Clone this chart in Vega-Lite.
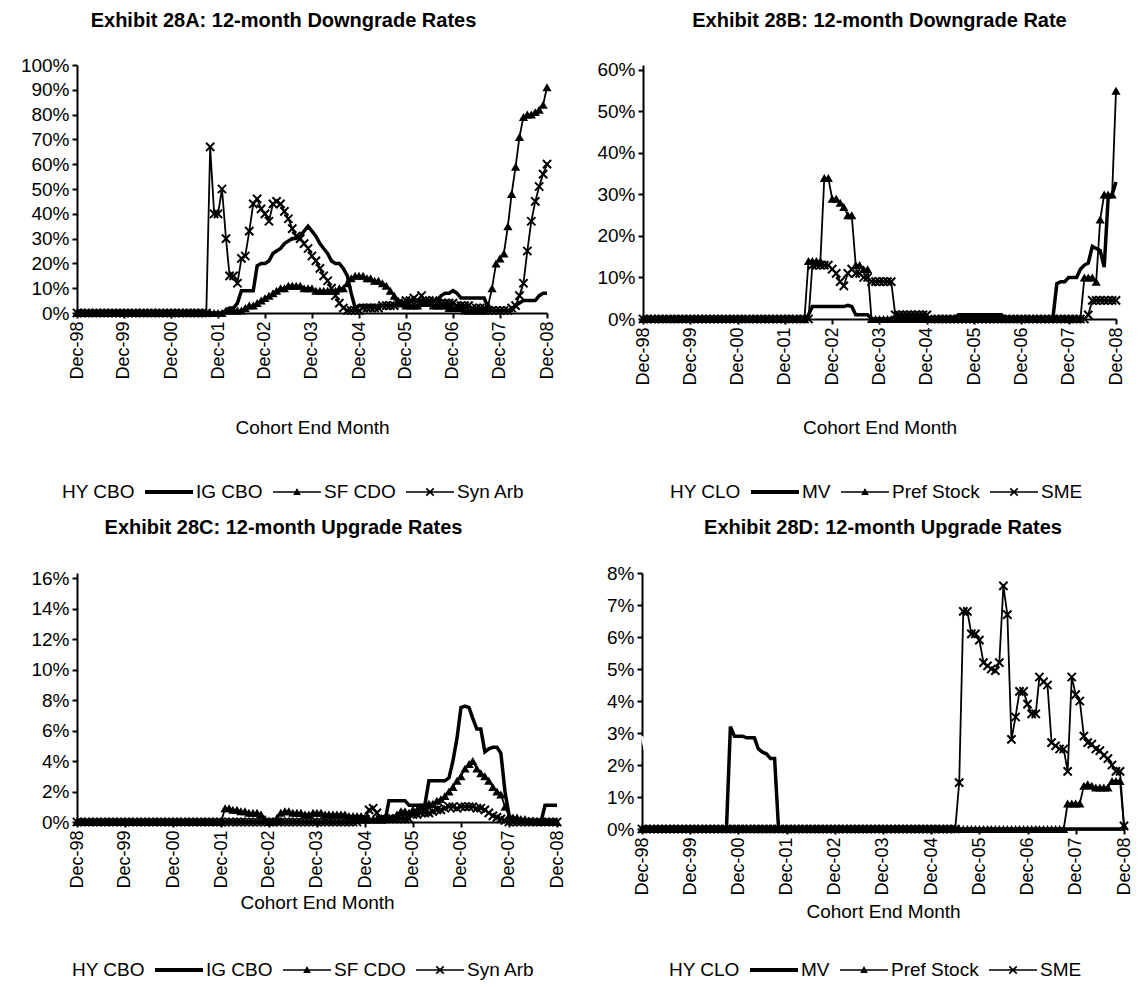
{
"$schema":"https://vega.github.io/schema/vega-lite/v6.json",
"background":"white",
"padding":{"left":11,"top":10,"right":0,"bottom":0},
"config":{
 "font":"Liberation Sans",
 "view":{"stroke":null},
 "title":{"fontSize":20,"fontWeight":"bold","color":"black","anchor":"middle"},
 "axis":{"grid":false,"domainColor":"black","domainWidth":2,"tickColor":"black","tickWidth":2,"tickSize":5,"labelColor":"black","titleColor":"black","labelPadding":3,"labelFlush":false,"labelOverlap":false,"titleFontWeight":"normal","titleFontSize":19},
 "legend":{"labelColor":"black","labelFontSize":19}
},
"datasets":{
"A":[
{"m":"1998-12","IG CBO":0,"SF CDO":0,"Syn Arb":0},
{"m":"1999-01","IG CBO":0,"SF CDO":0,"Syn Arb":0},
{"m":"1999-02","IG CBO":0,"SF CDO":0,"Syn Arb":0},
{"m":"1999-03","IG CBO":0,"SF CDO":0,"Syn Arb":0},
{"m":"1999-04","IG CBO":0,"SF CDO":0,"Syn Arb":0},
{"m":"1999-05","IG CBO":0,"SF CDO":0,"Syn Arb":0},
{"m":"1999-06","IG CBO":0,"SF CDO":0,"Syn Arb":0},
{"m":"1999-07","IG CBO":0,"SF CDO":0,"Syn Arb":0},
{"m":"1999-08","IG CBO":0,"SF CDO":0,"Syn Arb":0},
{"m":"1999-09","IG CBO":0,"SF CDO":0,"Syn Arb":0},
{"m":"1999-10","IG CBO":0,"SF CDO":0,"Syn Arb":0},
{"m":"1999-11","IG CBO":0,"SF CDO":0,"Syn Arb":0},
{"m":"1999-12","IG CBO":0,"SF CDO":0,"Syn Arb":0},
{"m":"2000-01","IG CBO":0,"SF CDO":0,"Syn Arb":0},
{"m":"2000-02","IG CBO":0,"SF CDO":0,"Syn Arb":0},
{"m":"2000-03","IG CBO":0,"SF CDO":0,"Syn Arb":0},
{"m":"2000-04","IG CBO":0,"SF CDO":0,"Syn Arb":0},
{"m":"2000-05","IG CBO":0,"SF CDO":0,"Syn Arb":0},
{"m":"2000-06","IG CBO":0,"SF CDO":0,"Syn Arb":0},
{"m":"2000-07","IG CBO":0,"SF CDO":0,"Syn Arb":0},
{"m":"2000-08","IG CBO":0,"SF CDO":0,"Syn Arb":0},
{"m":"2000-09","IG CBO":0,"SF CDO":0,"Syn Arb":0},
{"m":"2000-10","IG CBO":0,"SF CDO":0,"Syn Arb":0},
{"m":"2000-11","IG CBO":0,"SF CDO":0,"Syn Arb":0},
{"m":"2000-12","IG CBO":0,"SF CDO":0,"Syn Arb":0},
{"m":"2001-01","IG CBO":0,"SF CDO":0,"Syn Arb":0},
{"m":"2001-02","IG CBO":0,"SF CDO":0,"Syn Arb":0},
{"m":"2001-03","IG CBO":0,"SF CDO":0,"Syn Arb":0},
{"m":"2001-04","IG CBO":0,"SF CDO":0,"Syn Arb":0},
{"m":"2001-05","IG CBO":0,"SF CDO":0,"Syn Arb":0},
{"m":"2001-06","IG CBO":0,"SF CDO":0,"Syn Arb":0},
{"m":"2001-07","IG CBO":0,"SF CDO":0,"Syn Arb":0},
{"m":"2001-08","IG CBO":0,"SF CDO":0,"Syn Arb":0},
{"m":"2001-09","IG CBO":0,"SF CDO":0,"Syn Arb":0},
{"m":"2001-10","IG CBO":0,"SF CDO":0,"Syn Arb":67},
{"m":"2001-11","IG CBO":0,"SF CDO":0,"Syn Arb":40},
{"m":"2001-12","IG CBO":0,"SF CDO":0,"Syn Arb":40},
{"m":"2002-01","IG CBO":0,"SF CDO":0,"Syn Arb":50},
{"m":"2002-02","IG CBO":1,"SF CDO":1,"Syn Arb":30},
{"m":"2002-03","IG CBO":2,"SF CDO":1,"Syn Arb":15},
{"m":"2002-04","IG CBO":2,"SF CDO":1,"Syn Arb":15},
{"m":"2002-05","IG CBO":4,"SF CDO":1,"Syn Arb":12},
{"m":"2002-06","IG CBO":9,"SF CDO":1,"Syn Arb":22},
{"m":"2002-07","IG CBO":9,"SF CDO":2,"Syn Arb":23},
{"m":"2002-08","IG CBO":9,"SF CDO":3,"Syn Arb":33},
{"m":"2002-09","IG CBO":9,"SF CDO":3,"Syn Arb":44},
{"m":"2002-10","IG CBO":19,"SF CDO":4,"Syn Arb":46},
{"m":"2002-11","IG CBO":20,"SF CDO":5,"Syn Arb":42},
{"m":"2002-12","IG CBO":20,"SF CDO":6,"Syn Arb":40},
{"m":"2003-01","IG CBO":21,"SF CDO":7,"Syn Arb":37},
{"m":"2003-02","IG CBO":24,"SF CDO":8,"Syn Arb":44},
{"m":"2003-03","IG CBO":25,"SF CDO":9,"Syn Arb":45},
{"m":"2003-04","IG CBO":26,"SF CDO":10,"Syn Arb":44},
{"m":"2003-05","IG CBO":28,"SF CDO":10,"Syn Arb":41},
{"m":"2003-06","IG CBO":29,"SF CDO":11,"Syn Arb":38},
{"m":"2003-07","IG CBO":30,"SF CDO":11,"Syn Arb":34},
{"m":"2003-08","IG CBO":30,"SF CDO":11,"Syn Arb":31},
{"m":"2003-09","IG CBO":31,"SF CDO":11,"Syn Arb":30},
{"m":"2003-10","IG CBO":33,"SF CDO":10,"Syn Arb":28},
{"m":"2003-11","IG CBO":35,"SF CDO":10,"Syn Arb":26},
{"m":"2003-12","IG CBO":33,"SF CDO":10,"Syn Arb":23},
{"m":"2004-01","IG CBO":31,"SF CDO":9,"Syn Arb":21},
{"m":"2004-02","IG CBO":28,"SF CDO":9,"Syn Arb":18},
{"m":"2004-03","IG CBO":26,"SF CDO":9,"Syn Arb":15},
{"m":"2004-04","IG CBO":24,"SF CDO":9,"Syn Arb":13},
{"m":"2004-05","IG CBO":21,"SF CDO":9,"Syn Arb":10},
{"m":"2004-06","IG CBO":20,"SF CDO":9,"Syn Arb":7},
{"m":"2004-07","IG CBO":20,"SF CDO":10,"Syn Arb":4},
{"m":"2004-08","IG CBO":18,"SF CDO":10,"Syn Arb":2},
{"m":"2004-09","IG CBO":15,"SF CDO":12,"Syn Arb":1},
{"m":"2004-10","IG CBO":8,"SF CDO":14,"Syn Arb":1},
{"m":"2004-11","IG CBO":2,"SF CDO":15,"Syn Arb":1},
{"m":"2004-12","IG CBO":3,"SF CDO":15,"Syn Arb":1},
{"m":"2005-01","IG CBO":3,"SF CDO":15,"Syn Arb":2},
{"m":"2005-02","IG CBO":3,"SF CDO":14,"Syn Arb":2},
{"m":"2005-03","IG CBO":3,"SF CDO":14,"Syn Arb":2},
{"m":"2005-04","IG CBO":3,"SF CDO":13,"Syn Arb":2},
{"m":"2005-05","IG CBO":3,"SF CDO":13,"Syn Arb":2},
{"m":"2005-06","IG CBO":3,"SF CDO":12,"Syn Arb":3},
{"m":"2005-07","IG CBO":3,"SF CDO":11,"Syn Arb":3},
{"m":"2005-08","IG CBO":3,"SF CDO":9,"Syn Arb":3},
{"m":"2005-09","IG CBO":3,"SF CDO":7,"Syn Arb":3},
{"m":"2005-10","IG CBO":3,"SF CDO":5,"Syn Arb":4},
{"m":"2005-11","IG CBO":3,"SF CDO":4,"Syn Arb":4},
{"m":"2005-12","IG CBO":3,"SF CDO":3,"Syn Arb":5},
{"m":"2006-01","IG CBO":5,"SF CDO":3,"Syn Arb":5},
{"m":"2006-02","IG CBO":5,"SF CDO":3,"Syn Arb":6},
{"m":"2006-03","IG CBO":5,"SF CDO":3,"Syn Arb":5},
{"m":"2006-04","IG CBO":5,"SF CDO":4,"Syn Arb":7},
{"m":"2006-05","IG CBO":5,"SF CDO":4,"Syn Arb":5},
{"m":"2006-06","IG CBO":5,"SF CDO":4,"Syn Arb":5},
{"m":"2006-07","IG CBO":5,"SF CDO":3,"Syn Arb":5},
{"m":"2006-08","IG CBO":5,"SF CDO":3,"Syn Arb":4},
{"m":"2006-09","IG CBO":7,"SF CDO":3,"Syn Arb":4},
{"m":"2006-10","IG CBO":8,"SF CDO":3,"Syn Arb":4},
{"m":"2006-11","IG CBO":8,"SF CDO":2,"Syn Arb":4},
{"m":"2006-12","IG CBO":9,"SF CDO":2,"Syn Arb":4},
{"m":"2007-01","IG CBO":8,"SF CDO":2,"Syn Arb":3},
{"m":"2007-02","IG CBO":6,"SF CDO":2,"Syn Arb":3},
{"m":"2007-03","IG CBO":6,"SF CDO":1,"Syn Arb":3},
{"m":"2007-04","IG CBO":6,"SF CDO":1,"Syn Arb":3},
{"m":"2007-05","IG CBO":6,"SF CDO":1,"Syn Arb":2},
{"m":"2007-06","IG CBO":6,"SF CDO":1,"Syn Arb":2},
{"m":"2007-07","IG CBO":6,"SF CDO":1,"Syn Arb":2},
{"m":"2007-08","IG CBO":6,"SF CDO":1,"Syn Arb":2},
{"m":"2007-09","IG CBO":2,"SF CDO":3,"Syn Arb":1},
{"m":"2007-10","IG CBO":1,"SF CDO":10,"Syn Arb":1},
{"m":"2007-11","IG CBO":1,"SF CDO":20,"Syn Arb":1},
{"m":"2007-12","IG CBO":1,"SF CDO":22,"Syn Arb":1},
{"m":"2008-01","IG CBO":1,"SF CDO":24,"Syn Arb":1},
{"m":"2008-02","IG CBO":1,"SF CDO":35,"Syn Arb":1},
{"m":"2008-03","IG CBO":1,"SF CDO":48,"Syn Arb":2},
{"m":"2008-04","IG CBO":3,"SF CDO":59,"Syn Arb":3},
{"m":"2008-05","IG CBO":4,"SF CDO":71,"Syn Arb":7},
{"m":"2008-06","IG CBO":5,"SF CDO":79,"Syn Arb":12},
{"m":"2008-07","IG CBO":5,"SF CDO":80,"Syn Arb":25},
{"m":"2008-08","IG CBO":5,"SF CDO":80,"Syn Arb":37},
{"m":"2008-09","IG CBO":5,"SF CDO":81,"Syn Arb":45},
{"m":"2008-10","IG CBO":7,"SF CDO":82,"Syn Arb":51},
{"m":"2008-11","IG CBO":8,"SF CDO":84,"Syn Arb":56},
{"m":"2008-12","IG CBO":8,"SF CDO":91,"Syn Arb":60}
],
"B":[
{"m":"1998-12","MV":0,"Pref Stock":0,"SME":0},
{"m":"1999-01","MV":0,"Pref Stock":0,"SME":0},
{"m":"1999-02","MV":0,"Pref Stock":0,"SME":0},
{"m":"1999-03","MV":0,"Pref Stock":0,"SME":0},
{"m":"1999-04","MV":0,"Pref Stock":0,"SME":0},
{"m":"1999-05","MV":0,"Pref Stock":0,"SME":0},
{"m":"1999-06","MV":0,"Pref Stock":0,"SME":0},
{"m":"1999-07","MV":0,"Pref Stock":0,"SME":0},
{"m":"1999-08","MV":0,"Pref Stock":0,"SME":0},
{"m":"1999-09","MV":0,"Pref Stock":0,"SME":0},
{"m":"1999-10","MV":0,"Pref Stock":0,"SME":0},
{"m":"1999-11","MV":0,"Pref Stock":0,"SME":0},
{"m":"1999-12","MV":0,"Pref Stock":0,"SME":0},
{"m":"2000-01","MV":0,"Pref Stock":0,"SME":0},
{"m":"2000-02","MV":0,"Pref Stock":0,"SME":0},
{"m":"2000-03","MV":0,"Pref Stock":0,"SME":0},
{"m":"2000-04","MV":0,"Pref Stock":0,"SME":0},
{"m":"2000-05","MV":0,"Pref Stock":0,"SME":0},
{"m":"2000-06","MV":0,"Pref Stock":0,"SME":0},
{"m":"2000-07","MV":0,"Pref Stock":0,"SME":0},
{"m":"2000-08","MV":0,"Pref Stock":0,"SME":0},
{"m":"2000-09","MV":0,"Pref Stock":0,"SME":0},
{"m":"2000-10","MV":0,"Pref Stock":0,"SME":0},
{"m":"2000-11","MV":0,"Pref Stock":0,"SME":0},
{"m":"2000-12","MV":0,"Pref Stock":0,"SME":0},
{"m":"2001-01","MV":0,"Pref Stock":0,"SME":0},
{"m":"2001-02","MV":0,"Pref Stock":0,"SME":0},
{"m":"2001-03","MV":0,"Pref Stock":0,"SME":0},
{"m":"2001-04","MV":0,"Pref Stock":0,"SME":0},
{"m":"2001-05","MV":0,"Pref Stock":0,"SME":0},
{"m":"2001-06","MV":0,"Pref Stock":0,"SME":0},
{"m":"2001-07","MV":0,"Pref Stock":0,"SME":0},
{"m":"2001-08","MV":0,"Pref Stock":0,"SME":0},
{"m":"2001-09","MV":0,"Pref Stock":0,"SME":0},
{"m":"2001-10","MV":0,"Pref Stock":0,"SME":0},
{"m":"2001-11","MV":0,"Pref Stock":0,"SME":0},
{"m":"2001-12","MV":0,"Pref Stock":0,"SME":0},
{"m":"2002-01","MV":0,"Pref Stock":0,"SME":0},
{"m":"2002-02","MV":0,"Pref Stock":0,"SME":0},
{"m":"2002-03","MV":0,"Pref Stock":0,"SME":0},
{"m":"2002-04","MV":0,"Pref Stock":0,"SME":0},
{"m":"2002-05","MV":0,"Pref Stock":0,"SME":0},
{"m":"2002-06","MV":1,"Pref Stock":14,"SME":0},
{"m":"2002-07","MV":3,"Pref Stock":14,"SME":13},
{"m":"2002-08","MV":3,"Pref Stock":14,"SME":13},
{"m":"2002-09","MV":3,"Pref Stock":14,"SME":13},
{"m":"2002-10","MV":3,"Pref Stock":34,"SME":13},
{"m":"2002-11","MV":3,"Pref Stock":34,"SME":13},
{"m":"2002-12","MV":3,"Pref Stock":29,"SME":12},
{"m":"2003-01","MV":3,"Pref Stock":29,"SME":11},
{"m":"2003-02","MV":3,"Pref Stock":28,"SME":9},
{"m":"2003-03","MV":3,"Pref Stock":27,"SME":8},
{"m":"2003-04","MV":3.3,"Pref Stock":25,"SME":11},
{"m":"2003-05","MV":3,"Pref Stock":25,"SME":12},
{"m":"2003-06","MV":1,"Pref Stock":13,"SME":11},
{"m":"2003-07","MV":1,"Pref Stock":13,"SME":11},
{"m":"2003-08","MV":1,"Pref Stock":12,"SME":10},
{"m":"2003-09","MV":1,"Pref Stock":12,"SME":10},
{"m":"2003-10","MV":0,"Pref Stock":0,"SME":9},
{"m":"2003-11","MV":0,"Pref Stock":0,"SME":9},
{"m":"2003-12","MV":0,"Pref Stock":0,"SME":9},
{"m":"2004-01","MV":0,"Pref Stock":0,"SME":9},
{"m":"2004-02","MV":0,"Pref Stock":0,"SME":9},
{"m":"2004-03","MV":0,"Pref Stock":0,"SME":9},
{"m":"2004-04","MV":0,"Pref Stock":0,"SME":1},
{"m":"2004-05","MV":0,"Pref Stock":0,"SME":1},
{"m":"2004-06","MV":0,"Pref Stock":0,"SME":1},
{"m":"2004-07","MV":0,"Pref Stock":0,"SME":1},
{"m":"2004-08","MV":0,"Pref Stock":0,"SME":1},
{"m":"2004-09","MV":0,"Pref Stock":0,"SME":1},
{"m":"2004-10","MV":0,"Pref Stock":0,"SME":1},
{"m":"2004-11","MV":0,"Pref Stock":0,"SME":1},
{"m":"2004-12","MV":0,"Pref Stock":0,"SME":1},
{"m":"2005-01","MV":0,"Pref Stock":0,"SME":0},
{"m":"2005-02","MV":0,"Pref Stock":0,"SME":0},
{"m":"2005-03","MV":0,"Pref Stock":0,"SME":0},
{"m":"2005-04","MV":0,"Pref Stock":0,"SME":0},
{"m":"2005-05","MV":0,"Pref Stock":0,"SME":0},
{"m":"2005-06","MV":0,"Pref Stock":0,"SME":0},
{"m":"2005-07","MV":0,"Pref Stock":0,"SME":0},
{"m":"2005-08","MV":1,"Pref Stock":0,"SME":0},
{"m":"2005-09","MV":1,"Pref Stock":0,"SME":0},
{"m":"2005-10","MV":1,"Pref Stock":0,"SME":0},
{"m":"2005-11","MV":1,"Pref Stock":0,"SME":0},
{"m":"2005-12","MV":1,"Pref Stock":0,"SME":0},
{"m":"2006-01","MV":1,"Pref Stock":0,"SME":0},
{"m":"2006-02","MV":1,"Pref Stock":0,"SME":0},
{"m":"2006-03","MV":1,"Pref Stock":0,"SME":0},
{"m":"2006-04","MV":1,"Pref Stock":0,"SME":0},
{"m":"2006-05","MV":1,"Pref Stock":0,"SME":0},
{"m":"2006-06","MV":1,"Pref Stock":0,"SME":0},
{"m":"2006-07","MV":1,"Pref Stock":0,"SME":0},
{"m":"2006-08","MV":0,"Pref Stock":0,"SME":0},
{"m":"2006-09","MV":0,"Pref Stock":0,"SME":0},
{"m":"2006-10","MV":0,"Pref Stock":0,"SME":0},
{"m":"2006-11","MV":0,"Pref Stock":0,"SME":0},
{"m":"2006-12","MV":0,"Pref Stock":0,"SME":0},
{"m":"2007-01","MV":0,"Pref Stock":0,"SME":0},
{"m":"2007-02","MV":0,"Pref Stock":0,"SME":0},
{"m":"2007-03","MV":0,"Pref Stock":0,"SME":0},
{"m":"2007-04","MV":0,"Pref Stock":0,"SME":0},
{"m":"2007-05","MV":0,"Pref Stock":0,"SME":0},
{"m":"2007-06","MV":0,"Pref Stock":0,"SME":0},
{"m":"2007-07","MV":0,"Pref Stock":0,"SME":0},
{"m":"2007-08","MV":0,"Pref Stock":0,"SME":0},
{"m":"2007-09","MV":8.5,"Pref Stock":0,"SME":0},
{"m":"2007-10","MV":9,"Pref Stock":0,"SME":0},
{"m":"2007-11","MV":9,"Pref Stock":0,"SME":0},
{"m":"2007-12","MV":10,"Pref Stock":0,"SME":0},
{"m":"2008-01","MV":10,"Pref Stock":0,"SME":0},
{"m":"2008-02","MV":10,"Pref Stock":0,"SME":0},
{"m":"2008-03","MV":12,"Pref Stock":0,"SME":0},
{"m":"2008-04","MV":13,"Pref Stock":10,"SME":0},
{"m":"2008-05","MV":13.5,"Pref Stock":10,"SME":1},
{"m":"2008-06","MV":17.5,"Pref Stock":10,"SME":4.5},
{"m":"2008-07","MV":17,"Pref Stock":9,"SME":4.5},
{"m":"2008-08","MV":16.5,"Pref Stock":24,"SME":4.5},
{"m":"2008-09","MV":12.5,"Pref Stock":30,"SME":4.5},
{"m":"2008-10","MV":29,"Pref Stock":30,"SME":4.5},
{"m":"2008-11","MV":30,"Pref Stock":30,"SME":4.5},
{"m":"2008-12","MV":33,"Pref Stock":55,"SME":4.5}
],
"C":[
{"m":"1998-12","IG CBO":0,"SF CDO":0,"Syn Arb":0},
{"m":"1999-01","IG CBO":0,"SF CDO":0,"Syn Arb":0},
{"m":"1999-02","IG CBO":0,"SF CDO":0,"Syn Arb":0},
{"m":"1999-03","IG CBO":0,"SF CDO":0,"Syn Arb":0},
{"m":"1999-04","IG CBO":0,"SF CDO":0,"Syn Arb":0},
{"m":"1999-05","IG CBO":0,"SF CDO":0,"Syn Arb":0},
{"m":"1999-06","IG CBO":0,"SF CDO":0,"Syn Arb":0},
{"m":"1999-07","IG CBO":0,"SF CDO":0,"Syn Arb":0},
{"m":"1999-08","IG CBO":0,"SF CDO":0,"Syn Arb":0},
{"m":"1999-09","IG CBO":0,"SF CDO":0,"Syn Arb":0},
{"m":"1999-10","IG CBO":0,"SF CDO":0,"Syn Arb":0},
{"m":"1999-11","IG CBO":0,"SF CDO":0,"Syn Arb":0},
{"m":"1999-12","IG CBO":0,"SF CDO":0,"Syn Arb":0},
{"m":"2000-01","IG CBO":0,"SF CDO":0,"Syn Arb":0},
{"m":"2000-02","IG CBO":0,"SF CDO":0,"Syn Arb":0},
{"m":"2000-03","IG CBO":0,"SF CDO":0,"Syn Arb":0},
{"m":"2000-04","IG CBO":0,"SF CDO":0,"Syn Arb":0},
{"m":"2000-05","IG CBO":0,"SF CDO":0,"Syn Arb":0},
{"m":"2000-06","IG CBO":0,"SF CDO":0,"Syn Arb":0},
{"m":"2000-07","IG CBO":0,"SF CDO":0,"Syn Arb":0},
{"m":"2000-08","IG CBO":0,"SF CDO":0,"Syn Arb":0},
{"m":"2000-09","IG CBO":0,"SF CDO":0,"Syn Arb":0},
{"m":"2000-10","IG CBO":0,"SF CDO":0,"Syn Arb":0},
{"m":"2000-11","IG CBO":0,"SF CDO":0,"Syn Arb":0},
{"m":"2000-12","IG CBO":0,"SF CDO":0,"Syn Arb":0},
{"m":"2001-01","IG CBO":0,"SF CDO":0,"Syn Arb":0},
{"m":"2001-02","IG CBO":0,"SF CDO":0,"Syn Arb":0},
{"m":"2001-03","IG CBO":0,"SF CDO":0,"Syn Arb":0},
{"m":"2001-04","IG CBO":0,"SF CDO":0,"Syn Arb":0},
{"m":"2001-05","IG CBO":0,"SF CDO":0,"Syn Arb":0},
{"m":"2001-06","IG CBO":0,"SF CDO":0,"Syn Arb":0},
{"m":"2001-07","IG CBO":0,"SF CDO":0,"Syn Arb":0},
{"m":"2001-08","IG CBO":0,"SF CDO":0,"Syn Arb":0},
{"m":"2001-09","IG CBO":0,"SF CDO":0,"Syn Arb":0},
{"m":"2001-10","IG CBO":0,"SF CDO":0,"Syn Arb":0},
{"m":"2001-11","IG CBO":0,"SF CDO":0,"Syn Arb":0},
{"m":"2001-12","IG CBO":0,"SF CDO":0,"Syn Arb":0},
{"m":"2002-01","IG CBO":0,"SF CDO":0.9,"Syn Arb":0},
{"m":"2002-02","IG CBO":0,"SF CDO":0.9,"Syn Arb":0},
{"m":"2002-03","IG CBO":0,"SF CDO":0.8,"Syn Arb":0},
{"m":"2002-04","IG CBO":0,"SF CDO":0.8,"Syn Arb":0},
{"m":"2002-05","IG CBO":0,"SF CDO":0.7,"Syn Arb":0},
{"m":"2002-06","IG CBO":0,"SF CDO":0.7,"Syn Arb":0},
{"m":"2002-07","IG CBO":0,"SF CDO":0.6,"Syn Arb":0},
{"m":"2002-08","IG CBO":0,"SF CDO":0.6,"Syn Arb":0},
{"m":"2002-09","IG CBO":0,"SF CDO":0.6,"Syn Arb":0},
{"m":"2002-10","IG CBO":0,"SF CDO":0.5,"Syn Arb":0},
{"m":"2002-11","IG CBO":0,"SF CDO":0.2,"Syn Arb":0},
{"m":"2002-12","IG CBO":0,"SF CDO":0,"Syn Arb":0},
{"m":"2003-01","IG CBO":0,"SF CDO":0,"Syn Arb":0},
{"m":"2003-02","IG CBO":0,"SF CDO":0.3,"Syn Arb":0},
{"m":"2003-03","IG CBO":0,"SF CDO":0.6,"Syn Arb":0},
{"m":"2003-04","IG CBO":0,"SF CDO":0.7,"Syn Arb":0},
{"m":"2003-05","IG CBO":0,"SF CDO":0.7,"Syn Arb":0},
{"m":"2003-06","IG CBO":0,"SF CDO":0.6,"Syn Arb":0},
{"m":"2003-07","IG CBO":0,"SF CDO":0.6,"Syn Arb":0},
{"m":"2003-08","IG CBO":0,"SF CDO":0.6,"Syn Arb":0},
{"m":"2003-09","IG CBO":0,"SF CDO":0.5,"Syn Arb":0},
{"m":"2003-10","IG CBO":0,"SF CDO":0.5,"Syn Arb":0},
{"m":"2003-11","IG CBO":0,"SF CDO":0.6,"Syn Arb":0},
{"m":"2003-12","IG CBO":0,"SF CDO":0.6,"Syn Arb":0},
{"m":"2004-01","IG CBO":0,"SF CDO":0.6,"Syn Arb":0},
{"m":"2004-02","IG CBO":0,"SF CDO":0.5,"Syn Arb":0},
{"m":"2004-03","IG CBO":0,"SF CDO":0.5,"Syn Arb":0},
{"m":"2004-04","IG CBO":0,"SF CDO":0.5,"Syn Arb":0},
{"m":"2004-05","IG CBO":0,"SF CDO":0.5,"Syn Arb":0},
{"m":"2004-06","IG CBO":0,"SF CDO":0.5,"Syn Arb":0},
{"m":"2004-07","IG CBO":0,"SF CDO":0.5,"Syn Arb":0},
{"m":"2004-08","IG CBO":0,"SF CDO":0.4,"Syn Arb":0},
{"m":"2004-09","IG CBO":0,"SF CDO":0.4,"Syn Arb":0},
{"m":"2004-10","IG CBO":0,"SF CDO":0.4,"Syn Arb":0},
{"m":"2004-11","IG CBO":0,"SF CDO":0.4,"Syn Arb":0.2},
{"m":"2004-12","IG CBO":0,"SF CDO":0.2,"Syn Arb":0.2},
{"m":"2005-01","IG CBO":0,"SF CDO":0.2,"Syn Arb":0.8},
{"m":"2005-02","IG CBO":0,"SF CDO":0.2,"Syn Arb":0.9},
{"m":"2005-03","IG CBO":0,"SF CDO":0.2,"Syn Arb":0.6},
{"m":"2005-04","IG CBO":0,"SF CDO":0.2,"Syn Arb":0.2},
{"m":"2005-05","IG CBO":0,"SF CDO":0.2,"Syn Arb":0.2},
{"m":"2005-06","IG CBO":1.4,"SF CDO":0.2,"Syn Arb":0.2},
{"m":"2005-07","IG CBO":1.4,"SF CDO":0.3,"Syn Arb":0.2},
{"m":"2005-08","IG CBO":1.4,"SF CDO":0.5,"Syn Arb":0.2},
{"m":"2005-09","IG CBO":1.4,"SF CDO":0.7,"Syn Arb":0.2},
{"m":"2005-10","IG CBO":1.4,"SF CDO":0.7,"Syn Arb":0.2},
{"m":"2005-11","IG CBO":1.1,"SF CDO":0.6,"Syn Arb":0.2},
{"m":"2005-12","IG CBO":1.1,"SF CDO":0.8,"Syn Arb":0.5},
{"m":"2006-01","IG CBO":1.1,"SF CDO":0.8,"Syn Arb":0.5},
{"m":"2006-02","IG CBO":1.1,"SF CDO":1.0,"Syn Arb":0.6},
{"m":"2006-03","IG CBO":1.1,"SF CDO":1.1,"Syn Arb":0.6},
{"m":"2006-04","IG CBO":2.7,"SF CDO":1.2,"Syn Arb":0.6},
{"m":"2006-05","IG CBO":2.7,"SF CDO":1.2,"Syn Arb":0.7},
{"m":"2006-06","IG CBO":2.7,"SF CDO":1.4,"Syn Arb":0.8},
{"m":"2006-07","IG CBO":2.7,"SF CDO":1.5,"Syn Arb":0.8},
{"m":"2006-08","IG CBO":2.7,"SF CDO":1.7,"Syn Arb":0.9},
{"m":"2006-09","IG CBO":2.9,"SF CDO":2.0,"Syn Arb":1.0},
{"m":"2006-10","IG CBO":4.0,"SF CDO":2.3,"Syn Arb":1.0},
{"m":"2006-11","IG CBO":5.5,"SF CDO":2.7,"Syn Arb":0.9},
{"m":"2006-12","IG CBO":7.5,"SF CDO":3.0,"Syn Arb":1.0},
{"m":"2007-01","IG CBO":7.6,"SF CDO":3.5,"Syn Arb":1.0},
{"m":"2007-02","IG CBO":7.5,"SF CDO":3.8,"Syn Arb":1.0},
{"m":"2007-03","IG CBO":6.8,"SF CDO":4.0,"Syn Arb":1.0},
{"m":"2007-04","IG CBO":6.1,"SF CDO":3.5,"Syn Arb":0.9},
{"m":"2007-05","IG CBO":6.1,"SF CDO":3.2,"Syn Arb":0.9},
{"m":"2007-06","IG CBO":4.6,"SF CDO":3.0,"Syn Arb":0.8},
{"m":"2007-07","IG CBO":4.8,"SF CDO":2.7,"Syn Arb":0.6},
{"m":"2007-08","IG CBO":4.9,"SF CDO":2.3,"Syn Arb":0.4},
{"m":"2007-09","IG CBO":4.9,"SF CDO":2.0,"Syn Arb":0.3},
{"m":"2007-10","IG CBO":4.5,"SF CDO":1.8,"Syn Arb":0.2},
{"m":"2007-11","IG CBO":2.0,"SF CDO":1.0,"Syn Arb":0.1},
{"m":"2007-12","IG CBO":0.5,"SF CDO":0.4,"Syn Arb":0},
{"m":"2008-01","IG CBO":0,"SF CDO":0.3,"Syn Arb":0},
{"m":"2008-02","IG CBO":0,"SF CDO":0.3,"Syn Arb":0},
{"m":"2008-03","IG CBO":0,"SF CDO":0.2,"Syn Arb":0},
{"m":"2008-04","IG CBO":0,"SF CDO":0.2,"Syn Arb":0},
{"m":"2008-05","IG CBO":0,"SF CDO":0.1,"Syn Arb":0},
{"m":"2008-06","IG CBO":0,"SF CDO":0.1,"Syn Arb":0},
{"m":"2008-07","IG CBO":0,"SF CDO":0,"Syn Arb":0},
{"m":"2008-08","IG CBO":0,"SF CDO":0,"Syn Arb":0},
{"m":"2008-09","IG CBO":1.1,"SF CDO":0,"Syn Arb":0},
{"m":"2008-10","IG CBO":1.1,"SF CDO":0,"Syn Arb":0},
{"m":"2008-11","IG CBO":1.1,"SF CDO":0,"Syn Arb":0},
{"m":"2008-12","IG CBO":1.1,"SF CDO":0,"Syn Arb":0}
],
"D":[
{"m":"1998-12","HY CLO":2.9,"MV":0,"Pref Stock":0,"SME":0},
{"m":"1999-01","HY CLO":2.3,"MV":0,"Pref Stock":0,"SME":0},
{"m":"1999-02","MV":0,"Pref Stock":0,"SME":0},
{"m":"1999-03","MV":0,"Pref Stock":0,"SME":0},
{"m":"1999-04","MV":0,"Pref Stock":0,"SME":0},
{"m":"1999-05","MV":0,"Pref Stock":0,"SME":0},
{"m":"1999-06","MV":0,"Pref Stock":0,"SME":0},
{"m":"1999-07","MV":0,"Pref Stock":0,"SME":0},
{"m":"1999-08","MV":0,"Pref Stock":0,"SME":0},
{"m":"1999-09","MV":0,"Pref Stock":0,"SME":0},
{"m":"1999-10","MV":0,"Pref Stock":0,"SME":0},
{"m":"1999-11","MV":0,"Pref Stock":0,"SME":0},
{"m":"1999-12","MV":0,"Pref Stock":0,"SME":0},
{"m":"2000-01","MV":0,"Pref Stock":0,"SME":0},
{"m":"2000-02","MV":0,"Pref Stock":0,"SME":0},
{"m":"2000-03","MV":0,"Pref Stock":0,"SME":0},
{"m":"2000-04","MV":0,"Pref Stock":0,"SME":0},
{"m":"2000-05","MV":0,"Pref Stock":0,"SME":0},
{"m":"2000-06","MV":0,"Pref Stock":0,"SME":0},
{"m":"2000-07","MV":0,"Pref Stock":0,"SME":0},
{"m":"2000-08","MV":0,"Pref Stock":0,"SME":0},
{"m":"2000-09","MV":0,"Pref Stock":0,"SME":0},
{"m":"2000-10","MV":3.2,"Pref Stock":0,"SME":0},
{"m":"2000-11","MV":2.9,"Pref Stock":0,"SME":0},
{"m":"2000-12","MV":2.9,"Pref Stock":0,"SME":0},
{"m":"2001-01","MV":2.9,"Pref Stock":0,"SME":0},
{"m":"2001-02","MV":2.85,"Pref Stock":0,"SME":0},
{"m":"2001-03","MV":2.85,"Pref Stock":0,"SME":0},
{"m":"2001-04","MV":2.85,"Pref Stock":0,"SME":0},
{"m":"2001-05","MV":2.5,"Pref Stock":0,"SME":0},
{"m":"2001-06","MV":2.4,"Pref Stock":0,"SME":0},
{"m":"2001-07","MV":2.35,"Pref Stock":0,"SME":0},
{"m":"2001-08","MV":2.2,"Pref Stock":0,"SME":0},
{"m":"2001-09","MV":2.2,"Pref Stock":0,"SME":0},
{"m":"2001-10","MV":0,"Pref Stock":0,"SME":0},
{"m":"2001-11","MV":0,"Pref Stock":0,"SME":0},
{"m":"2001-12","MV":0,"Pref Stock":0,"SME":0},
{"m":"2002-01","MV":0,"Pref Stock":0,"SME":0},
{"m":"2002-02","MV":0,"Pref Stock":0,"SME":0},
{"m":"2002-03","MV":0,"Pref Stock":0,"SME":0},
{"m":"2002-04","MV":0,"Pref Stock":0,"SME":0},
{"m":"2002-05","MV":0,"Pref Stock":0,"SME":0},
{"m":"2002-06","MV":0,"Pref Stock":0,"SME":0},
{"m":"2002-07","MV":0,"Pref Stock":0,"SME":0},
{"m":"2002-08","MV":0,"Pref Stock":0,"SME":0},
{"m":"2002-09","MV":0,"Pref Stock":0,"SME":0},
{"m":"2002-10","MV":0,"Pref Stock":0,"SME":0},
{"m":"2002-11","MV":0,"Pref Stock":0,"SME":0},
{"m":"2002-12","MV":0,"Pref Stock":0,"SME":0},
{"m":"2003-01","MV":0,"Pref Stock":0,"SME":0},
{"m":"2003-02","MV":0,"Pref Stock":0,"SME":0},
{"m":"2003-03","MV":0,"Pref Stock":0,"SME":0},
{"m":"2003-04","MV":0,"Pref Stock":0,"SME":0},
{"m":"2003-05","MV":0,"Pref Stock":0,"SME":0},
{"m":"2003-06","MV":0,"Pref Stock":0,"SME":0},
{"m":"2003-07","MV":0,"Pref Stock":0,"SME":0},
{"m":"2003-08","MV":0,"Pref Stock":0,"SME":0},
{"m":"2003-09","MV":0,"Pref Stock":0,"SME":0},
{"m":"2003-10","MV":0,"Pref Stock":0,"SME":0},
{"m":"2003-11","MV":0,"Pref Stock":0,"SME":0},
{"m":"2003-12","MV":0,"Pref Stock":0,"SME":0},
{"m":"2004-01","MV":0,"Pref Stock":0,"SME":0},
{"m":"2004-02","MV":0,"Pref Stock":0,"SME":0},
{"m":"2004-03","MV":0,"Pref Stock":0,"SME":0},
{"m":"2004-04","MV":0,"Pref Stock":0,"SME":0},
{"m":"2004-05","MV":0,"Pref Stock":0,"SME":0},
{"m":"2004-06","MV":0,"Pref Stock":0,"SME":0},
{"m":"2004-07","MV":0,"Pref Stock":0,"SME":0},
{"m":"2004-08","MV":0,"Pref Stock":0,"SME":0},
{"m":"2004-09","MV":0,"Pref Stock":0,"SME":0},
{"m":"2004-10","MV":0,"Pref Stock":0,"SME":0},
{"m":"2004-11","MV":0,"Pref Stock":0,"SME":0},
{"m":"2004-12","MV":0,"Pref Stock":0,"SME":0},
{"m":"2005-01","MV":0,"Pref Stock":0,"SME":0},
{"m":"2005-02","MV":0,"Pref Stock":0,"SME":0},
{"m":"2005-03","MV":0,"Pref Stock":0,"SME":0},
{"m":"2005-04","MV":0,"Pref Stock":0,"SME":0},
{"m":"2005-05","MV":0,"Pref Stock":0,"SME":0},
{"m":"2005-06","MV":0,"Pref Stock":0,"SME":0},
{"m":"2005-07","MV":0,"Pref Stock":0,"SME":1.45},
{"m":"2005-08","MV":0,"Pref Stock":0,"SME":6.8},
{"m":"2005-09","MV":0,"Pref Stock":0,"SME":6.8},
{"m":"2005-10","MV":0,"Pref Stock":0,"SME":6.1},
{"m":"2005-11","MV":0,"Pref Stock":0,"SME":6.1},
{"m":"2005-12","MV":0,"Pref Stock":0,"SME":5.9},
{"m":"2006-01","MV":0,"Pref Stock":0,"SME":5.2},
{"m":"2006-02","MV":0,"Pref Stock":0,"SME":5.1},
{"m":"2006-03","MV":0,"Pref Stock":0,"SME":5.0},
{"m":"2006-04","MV":0,"Pref Stock":0,"SME":4.95},
{"m":"2006-05","MV":0,"Pref Stock":0,"SME":5.2},
{"m":"2006-06","MV":0,"Pref Stock":0,"SME":7.6},
{"m":"2006-07","MV":0,"Pref Stock":0,"SME":6.7},
{"m":"2006-08","MV":0,"Pref Stock":0,"SME":2.8},
{"m":"2006-09","MV":0,"Pref Stock":0,"SME":3.5},
{"m":"2006-10","MV":0,"Pref Stock":0,"SME":4.3},
{"m":"2006-11","MV":0,"Pref Stock":0,"SME":4.3},
{"m":"2006-12","MV":0,"Pref Stock":0,"SME":3.9},
{"m":"2007-01","MV":0,"Pref Stock":0,"SME":3.6},
{"m":"2007-02","MV":0,"Pref Stock":0,"SME":3.6},
{"m":"2007-03","MV":0,"Pref Stock":0,"SME":4.75},
{"m":"2007-04","MV":0,"Pref Stock":0,"SME":4.6},
{"m":"2007-05","MV":0,"Pref Stock":0,"SME":4.5},
{"m":"2007-06","MV":0,"Pref Stock":0,"SME":2.7},
{"m":"2007-07","MV":0,"Pref Stock":0,"SME":2.6},
{"m":"2007-08","MV":0,"Pref Stock":0,"SME":2.5},
{"m":"2007-09","MV":0,"Pref Stock":0,"SME":2.5},
{"m":"2007-10","MV":0,"Pref Stock":0.8,"SME":1.8},
{"m":"2007-11","MV":0,"Pref Stock":0.8,"SME":4.75},
{"m":"2007-12","MV":0,"Pref Stock":0.8,"SME":4.2},
{"m":"2008-01","MV":0,"Pref Stock":0.8,"SME":4.0},
{"m":"2008-02","MV":0,"Pref Stock":1.35,"SME":2.9},
{"m":"2008-03","MV":0,"Pref Stock":1.4,"SME":2.7},
{"m":"2008-04","MV":0,"Pref Stock":1.35,"SME":2.65},
{"m":"2008-05","MV":0,"Pref Stock":1.3,"SME":2.5},
{"m":"2008-06","MV":0,"Pref Stock":1.3,"SME":2.45},
{"m":"2008-07","MV":0,"Pref Stock":1.3,"SME":2.3},
{"m":"2008-08","MV":0,"Pref Stock":1.3,"SME":2.2},
{"m":"2008-09","MV":0,"Pref Stock":1.5,"SME":2.0},
{"m":"2008-10","MV":0,"Pref Stock":1.5,"SME":1.8},
{"m":"2008-11","MV":0,"Pref Stock":1.5,"SME":1.8},
{"m":"2008-12","MV":0,"Pref Stock":0.1,"SME":0.1}
]
},
"vconcat":[
{"hconcat":[
{"title":{"text":"Exhibit 28A: 12-month Downgrade Rates","offset":25,"frame":"bounds"},
 "width":470,"height":248,
 "data":{"name":"A","format":{"parse":{"m":"utc:'%Y-%m'"}}},
 "transform":[{"fold":["HY CBO","IG CBO","SF CDO","Syn Arb"],"as":["series","rate"]}],
 "encoding":{
  "x":{"field":"m","type":"temporal","scale":{"type":"utc","domain":[{"year":1998,"month":12,"date":1,"utc":true},{"year":2008,"month":12,"date":1,"utc":true}]},
   "axis":{"title":"Cohort End Month","format":"%b-%y","labelAngle":-90,"labelFontSize":18,"titlePadding":39,
    "values":[{"year":1998,"month":12,"date":1,"utc":true},{"year":1999,"month":12,"date":1,"utc":true},{"year":2000,"month":12,"date":1,"utc":true},{"year":2001,"month":12,"date":1,"utc":true},{"year":2002,"month":12,"date":1,"utc":true},{"year":2003,"month":12,"date":1,"utc":true},{"year":2004,"month":12,"date":1,"utc":true},{"year":2005,"month":12,"date":1,"utc":true},{"year":2006,"month":12,"date":1,"utc":true},{"year":2007,"month":12,"date":1,"utc":true},{"year":2008,"month":12,"date":1,"utc":true}]}},
  "y":{"field":"rate","type":"quantitative","scale":{"domain":[0,100],"nice":false},
   "axis":{"title":null,"values":[0,10,20,30,40,50,60,70,80,90,100],"labelExpr":"datum.value + '%'","labelFontSize":19}}
 },
 "layer":[
  {"transform":[{"filter":"datum.series === 'HY CBO'"}],"mark":{"type":"line","color":"white","strokeWidth":2},"encoding":{}},
  {"transform":[{"filter":"datum.series === 'IG CBO'"}],"mark":{"type":"line","color":"black","strokeWidth":3.5},"encoding":{}},
  {"transform":[{"filter":"datum.series === 'SF CDO' || datum.series === 'Syn Arb'"}],"mark":{"type":"line","color":"black","strokeWidth":1.8},"encoding":{"detail":{"field":"series"}}},
  {"transform":[{"filter":"datum.series === 'SF CDO'"}],"mark":{"type":"point","shape":"triangle-up","filled":true,"color":"black","size":85,"opacity":1}},
  {"transform":[{"filter":"datum.series === 'Syn Arb'"}],"mark":{"type":"point","shape":"M-1,-1L1,1M-1,1L1,-1","filled":false,"color":"black","strokeWidth":2,"size":68,"opacity":1}},
  {"mark":{"type":"point","filled":true,"color":"black","opacity":0},"encoding":{
    "shape":{"field":"series","type":"nominal","scale":{"domain":["HY CBO","IG CBO","SF CDO","Syn Arb"],"range":["M-1,0H1Z","M-1,-0.08H1V0.08H-1Z","M-1,-0.035H1V0.035H-1ZM-0.16,0.13L0,-0.17L0.16,0.13Z","M-1,-0.035H1V0.035H-1ZM-0.18,-0.13L-0.13,-0.18L0.18,0.13L0.13,0.18ZM0.13,-0.18L0.18,-0.13L-0.13,0.18L-0.18,0.13Z"]},
     "legend":{"orient":"none","legendX":-66,"legendY":403,"direction":"horizontal","title":null,"symbolSize":2304,"symbolStrokeWidth":0,"symbolOpacity":1,"symbolFillColor":"black","labelFontSize":19,"labelOffset":3,"columnPadding":10,"labelLimit":300}}}}
 ]},
{"title":{"text":"Exhibit 28B: 12-month Downgrade Rate","offset":30,"frame":"group"},
 "width":473,"height":254,
 "data":{"name":"B","format":{"parse":{"m":"utc:'%Y-%m'"}}},
 "transform":[{"fold":["HY CLO","MV","Pref Stock","SME"],"as":["series","rate"]}],
 "encoding":{
  "x":{"field":"m","type":"temporal","scale":{"type":"utc","domain":[{"year":1998,"month":12,"date":1,"utc":true},{"year":2008,"month":12,"date":1,"utc":true}]},
   "axis":{"title":"Cohort End Month","format":"%b-%y","labelAngle":-90,"labelFontSize":18,"titlePadding":33,
    "values":[{"year":1998,"month":12,"date":1,"utc":true},{"year":1999,"month":12,"date":1,"utc":true},{"year":2000,"month":12,"date":1,"utc":true},{"year":2001,"month":12,"date":1,"utc":true},{"year":2002,"month":12,"date":1,"utc":true},{"year":2003,"month":12,"date":1,"utc":true},{"year":2004,"month":12,"date":1,"utc":true},{"year":2005,"month":12,"date":1,"utc":true},{"year":2006,"month":12,"date":1,"utc":true},{"year":2007,"month":12,"date":1,"utc":true},{"year":2008,"month":12,"date":1,"utc":true}]}},
  "y":{"field":"rate","type":"quantitative","scale":{"domain":[0,61.2],"nice":false},
   "axis":{"title":null,"values":[0,10,20,30,40,50,60],"labelExpr":"datum.value + '%'","labelFontSize":19}}
 },
 "layer":[
  {"transform":[{"filter":"datum.series === 'HY CLO'"}],"mark":{"type":"line","color":"white","strokeWidth":2},"encoding":{}},
  {"transform":[{"filter":"datum.series === 'MV'"}],"mark":{"type":"line","color":"black","strokeWidth":3.5},"encoding":{}},
  {"transform":[{"filter":"datum.series === 'Pref Stock' || datum.series === 'SME'"}],"mark":{"type":"line","color":"black","strokeWidth":1.8},"encoding":{"detail":{"field":"series"}}},
  {"transform":[{"filter":"datum.series === 'Pref Stock'"}],"mark":{"type":"point","shape":"triangle-up","filled":true,"color":"black","size":85,"opacity":1}},
  {"transform":[{"filter":"datum.series === 'SME'"}],"mark":{"type":"point","shape":"M-1,-1L1,1M-1,1L1,-1","filled":false,"color":"black","strokeWidth":2,"size":68,"opacity":1}},
  {"mark":{"type":"point","filled":true,"color":"black","opacity":0},"encoding":{
    "shape":{"field":"series","type":"nominal","scale":{"domain":["HY CLO","MV","Pref Stock","SME"],"range":["M-1,0H1Z","M-1,-0.08H1V0.08H-1Z","M-1,-0.035H1V0.035H-1ZM-0.16,0.13L0,-0.17L0.16,0.13Z","M-1,-0.035H1V0.035H-1ZM-0.18,-0.13L-0.13,-0.18L0.18,0.13L0.13,0.18ZM0.13,-0.18L0.18,-0.13L-0.13,0.18L-0.18,0.13Z"]},
     "legend":{"orient":"none","legendX":-24,"legendY":403,"direction":"horizontal","title":null,"symbolSize":2304,"symbolStrokeWidth":0,"symbolOpacity":1,"symbolFillColor":"black","labelFontSize":19,"labelOffset":3,"columnPadding":10,"labelLimit":300}}}}
 ]}
],"spacing":39,"resolve":{"scale":{"x":"independent","y":"independent","shape":"independent"},"legend":{"shape":"independent"}}},
{"hconcat":[
{"title":{"text":"Exhibit 28C: 12-month Upgrade Rates","offset":31,"frame":"bounds","dx":-10},
 "width":480,"height":249,
 "data":{"name":"C","format":{"parse":{"m":"utc:'%Y-%m'"}}},
 "transform":[{"fold":["HY CBO","IG CBO","SF CDO","Syn Arb"],"as":["series","rate"]}],
 "encoding":{
  "x":{"field":"m","type":"temporal","scale":{"type":"utc","domain":[{"year":1998,"month":12,"date":1,"utc":true},{"year":2008,"month":12,"date":1,"utc":true}]},
   "axis":{"title":"Cohort End Month","format":"%b-%y","labelAngle":-90,"labelFontSize":18,"titlePadding":5,
    "values":[{"year":1998,"month":12,"date":1,"utc":true},{"year":1999,"month":12,"date":1,"utc":true},{"year":2000,"month":12,"date":1,"utc":true},{"year":2001,"month":12,"date":1,"utc":true},{"year":2002,"month":12,"date":1,"utc":true},{"year":2003,"month":12,"date":1,"utc":true},{"year":2004,"month":12,"date":1,"utc":true},{"year":2005,"month":12,"date":1,"utc":true},{"year":2006,"month":12,"date":1,"utc":true},{"year":2007,"month":12,"date":1,"utc":true},{"year":2008,"month":12,"date":1,"utc":true}]}},
  "y":{"field":"rate","type":"quantitative","scale":{"domain":[0,16.33],"nice":false},
   "axis":{"title":null,"values":[0,2,4,6,8,10,12,14,16],"labelExpr":"datum.value + '%'","labelFontSize":19}}
 },
 "layer":[
  {"transform":[{"filter":"datum.series === 'HY CBO'"}],"mark":{"type":"line","color":"white","strokeWidth":2},"encoding":{}},
  {"transform":[{"filter":"datum.series === 'IG CBO'"}],"mark":{"type":"line","color":"black","strokeWidth":3.5},"encoding":{}},
  {"transform":[{"filter":"datum.series === 'SF CDO' || datum.series === 'Syn Arb'"}],"mark":{"type":"line","color":"black","strokeWidth":1.8},"encoding":{"detail":{"field":"series"}}},
  {"transform":[{"filter":"datum.series === 'SF CDO'"}],"mark":{"type":"point","shape":"triangle-up","filled":true,"color":"black","size":85,"opacity":1}},
  {"transform":[{"filter":"datum.series === 'Syn Arb'"}],"mark":{"type":"point","shape":"M-1,-1L1,1M-1,1L1,-1","filled":false,"color":"black","strokeWidth":2,"size":68,"opacity":1}},
  {"mark":{"type":"point","filled":true,"color":"black","opacity":0},"encoding":{
    "shape":{"field":"series","type":"nominal","scale":{"domain":["HY CBO","IG CBO","SF CDO","Syn Arb"],"range":["M-1,0H1Z","M-1,-0.08H1V0.08H-1Z","M-1,-0.035H1V0.035H-1ZM-0.16,0.13L0,-0.17L0.16,0.13Z","M-1,-0.035H1V0.035H-1ZM-0.18,-0.13L-0.13,-0.18L0.18,0.13L0.13,0.18ZM0.13,-0.18L0.18,-0.13L-0.13,0.18L-0.18,0.13Z"]},
     "legend":{"orient":"none","legendX":-56,"legendY":373,"direction":"horizontal","title":null,"symbolSize":2304,"symbolStrokeWidth":0,"symbolOpacity":1,"symbolFillColor":"black","labelFontSize":19,"labelOffset":3,"columnPadding":10,"labelLimit":300}}}}
 ]},
{"title":{"text":"Exhibit 28D: 12-month Upgrade Rates","offset":26,"frame":"group"},
 "width":482,"height":256,
 "data":{"name":"D","format":{"parse":{"m":"utc:'%Y-%m'"}}},
 "transform":[{"fold":["HY CLO","MV","Pref Stock","SME"],"as":["series","rate"]}],
 "encoding":{
  "x":{"field":"m","type":"temporal","scale":{"type":"utc","domain":[{"year":1998,"month":12,"date":1,"utc":true},{"year":2008,"month":12,"date":1,"utc":true}]},
   "axis":{"title":"Cohort End Month","format":"%b-%y","labelAngle":-90,"labelFontSize":18,"titlePadding":7,
    "values":[{"year":1998,"month":12,"date":1,"utc":true},{"year":1999,"month":12,"date":1,"utc":true},{"year":2000,"month":12,"date":1,"utc":true},{"year":2001,"month":12,"date":1,"utc":true},{"year":2002,"month":12,"date":1,"utc":true},{"year":2003,"month":12,"date":1,"utc":true},{"year":2004,"month":12,"date":1,"utc":true},{"year":2005,"month":12,"date":1,"utc":true},{"year":2006,"month":12,"date":1,"utc":true},{"year":2007,"month":12,"date":1,"utc":true},{"year":2008,"month":12,"date":1,"utc":true}]}},
  "y":{"field":"rate","type":"quantitative","scale":{"domain":[0,8],"nice":false},
   "axis":{"title":null,"values":[0,1,2,3,4,5,6,7,8],"labelExpr":"datum.value + '%'","labelFontSize":19}}
 },
 "layer":[
  {"transform":[{"filter":"datum.series === 'HY CLO'"}],"mark":{"type":"line","color":"white","strokeWidth":2.5},"encoding":{}},
  {"transform":[{"filter":"datum.series === 'MV'"}],"mark":{"type":"line","color":"black","strokeWidth":3.5},"encoding":{}},
  {"transform":[{"filter":"datum.series === 'Pref Stock' || datum.series === 'SME'"}],"mark":{"type":"line","color":"black","strokeWidth":1.8},"encoding":{"detail":{"field":"series"}}},
  {"transform":[{"filter":"datum.series === 'Pref Stock'"}],"mark":{"type":"point","shape":"triangle-up","filled":true,"color":"black","size":85,"opacity":1}},
  {"transform":[{"filter":"datum.series === 'SME'"}],"mark":{"type":"point","shape":"M-1,-1L1,1M-1,1L1,-1","filled":false,"color":"black","strokeWidth":2,"size":68,"opacity":1}},
  {"mark":{"type":"point","filled":true,"color":"black","opacity":0},"encoding":{
    "shape":{"field":"series","type":"nominal","scale":{"domain":["HY CLO","MV","Pref Stock","SME"],"range":["M-1,0H1Z","M-1,-0.08H1V0.08H-1Z","M-1,-0.035H1V0.035H-1ZM-0.16,0.13L0,-0.17L0.16,0.13Z","M-1,-0.035H1V0.035H-1ZM-0.18,-0.13L-0.13,-0.18L0.18,0.13L0.13,0.18ZM0.13,-0.18L0.18,-0.13L-0.13,0.18L-0.18,0.13Z"]},
     "legend":{"orient":"none","legendX":-24,"legendY":373,"direction":"horizontal","title":null,"symbolSize":2304,"symbolStrokeWidth":0,"symbolOpacity":1,"symbolFillColor":"black","labelFontSize":19,"labelOffset":3,"columnPadding":10,"labelLimit":300}}}}
 ]}
],"spacing":39,"resolve":{"scale":{"x":"independent","y":"independent","shape":"independent"},"legend":{"shape":"independent"}}}
],
"spacing":16,
"resolve":{"scale":{"x":"independent","y":"independent","shape":"independent"},"legend":{"shape":"independent"}}
}
